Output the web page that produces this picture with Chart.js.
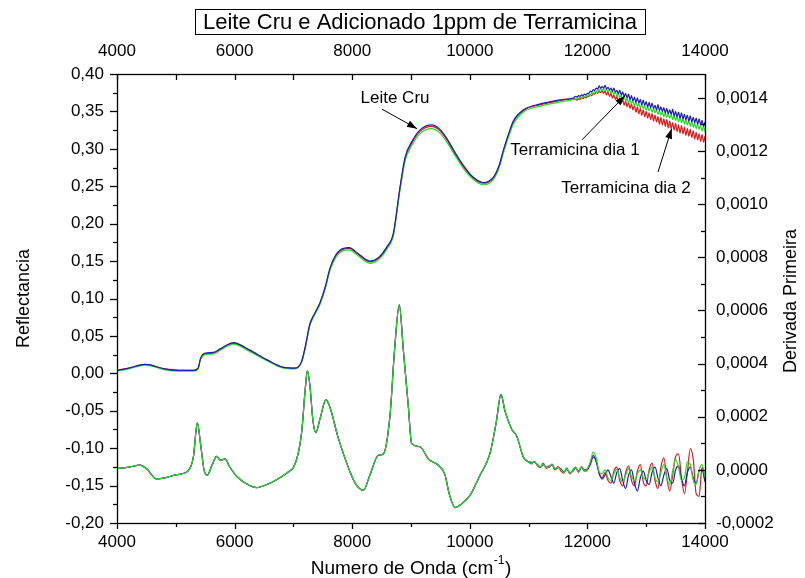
<!DOCTYPE html>
<html>
<head>
<meta charset="utf-8">
<script src="https://cdn.jsdelivr.net/npm/chart.js@4/dist/chart.umd.min.js"></script>
<style>
html,body{margin:0;padding:0;background:#fff;}
canvas{display:block;}
</style>
</head>
<body>
<canvas id="c" width="805" height="578"></canvas>
<script>
// ---------- DATA ----------
const chartTitle = 'Leite Cru e Adicionado 1ppm de Terramicina';
const xTitleMain = 'Numero de Onda (cm';
const xTitleSup = '-1';
const xTitleEnd = ')';
const yLeftTitle = 'Reflectancia';
const yRightTitle = 'Derivada Primeira';
const seriesNames = ['Leite Cru', 'Terramicina dia 1', 'Terramicina dia 2'];

const xTicks = [4000, 6000, 8000, 10000, 12000, 14000];
const xMinorTicks = [5000, 7000, 9000, 11000, 13000];
const yLeftTicks = [-0.20, -0.15, -0.10, -0.05, 0.00, 0.05, 0.10, 0.15, 0.20, 0.25, 0.30, 0.35, 0.40];
const yLeftMinor = [-0.175, -0.125, -0.075, -0.025, 0.025, 0.075, 0.125, 0.175, 0.225, 0.275, 0.325, 0.375];
const yRightTicks = [-0.0002, 0.0000, 0.0002, 0.0004, 0.0006, 0.0008, 0.0010, 0.0012, 0.0014];
const yRightMinor = [-0.0001, 0.0001, 0.0003, 0.0005, 0.0007, 0.0009, 0.0011, 0.0013];

// Reflectance (left axis) - smooth part
const wnReflSmooth = [4000,4200,4480,4800,5050,5300,5380,5420,5500,5640,
  5760,5980,6260,6550,6830,7030,7140,7200,7280,7360,
  7450,7540,7620,7720,7850,7950,8100,8300,8450,8590,
  8700,8810,8900,9010,9150,9350,9480,9610,9750,9890,
  10060,10230,10400,10500,10570,10660,10740,10910,11200,11500,
  11760];
const reflSmoothLeiteCru = [.004,.007,.012,.006,.004,.004,.007,.020,.027,.028,
  .033,.041,.031,.018,.008,.007,.016,.035,.066,.080,
  .094,.115,.140,.158,.167,.168,.160,.150,.155,.169,
  .187,.247,.289,.309,.325,.332,.327,.314,.295,.278,
  .262,.255,.262,.278,.298,.320,.337,.352,.360,.365,
  .368];
const reflSmoothDia1 = [.003,.006,.011,.005,.003,.003,.006,.018,.025,.026,
  .031,.039,.029,.017,.007,.006,.015,.033,.064,.078,
  .092,.113,.137,.155,.164,.165,.157,.147,.152,.166,
  .184,.243,.284,.304,.320,.327,.322,.309,.291,.274,
  .259,.252,.259,.275,.294,.316,.333,.349,.357,.362,
  .366];
const reflSmoothDia2 = [.004,.007,.012,.006,.004,.004,.007,.019,.026,.027,
  .032,.040,.030,.018,.008,.007,.016,.034,.065,.079,
  .093,.114,.139,.157,.166,.167,.159,.149,.154,.168,
  .186,.246,.287,.307,.323,.330,.325,.312,.293,.276,
  .261,.254,.261,.277,.297,.319,.336,.351,.359,.364,
  .367];
// Reflectance - noisy part (every 25 cm-1 from 11800 to 14000)
const wnReflNoisy = [11800,11825,11850,11875,11900,11925,11950,11975,12000,12025,
  12050,12075,12100,12125,12150,12175,12200,12225,12250,12275,
  12300,12325,12350,12375,12400,12425,12450,12475,12500,12525,
  12550,12575,12600,12625,12650,12675,12700,12725,12750,12775,
  12800,12825,12850,12875,12900,12925,12950,12975,13000,13025,
  13050,13075,13100,13125,13150,13175,13200,13225,13250,13275,
  13300,13325,13350,13375,13400,13425,13450,13475,13500,13525,
  13550,13575,13600,13625,13650,13675,13700,13725,13750,13775,
  13800,13825,13850,13875,13900,13925,13950,13975,14000];
const reflNoisyLeiteCru = [.370,.369,.371,.370,.372,.371,.373,.372,.374,.374,
  .377,.376,.379,.378,.381,.380,.384,.381,.383,.381,
  .385,.380,.382,.379,.381,.377,.381,.376,.378,.374,
  .378,.372,.376,.370,.374,.368,.373,.366,.371,.364,
  .369,.362,.368,.361,.366,.359,.365,.358,.363,.356,
  .362,.355,.361,.354,.358,.352,.359,.351,.356,.350,
  .355,.348,.354,.347,.352,.346,.353,.344,.350,.343,
  .349,.341,.348,.340,.346,.339,.345,.337,.344,.336,
  .342,.335,.341,.333,.340,.332,.338,.330,.336];
const reflNoisyDia1 = [.367,.368,.367,.369,.368,.370,.369,.371,.370,.373,
  .371,.375,.373,.377,.375,.379,.377,.381,.378,.380,
  .377,.380,.376,.379,.374,.377,.373,.376,.370,.374,
  .369,.371,.366,.370,.364,.367,.362,.366,.361,.363,
  .358,.362,.357,.360,.355,.359,.354,.357,.352,.356,
  .351,.355,.349,.354,.348,.352,.346,.351,.345,.350,
  .343,.348,.342,.347,.341,.346,.339,.344,.338,.343,
  .336,.342,.335,.340,.333,.339,.332,.337,.330,.336,
  .329,.334,.327,.333,.326,.331,.324,.330,.323];
const reflNoisyDia2 = [.366,.365,.367,.366,.368,.367,.369,.368,.370,.370,
  .372,.371,.374,.373,.376,.374,.377,.375,.378,.374,
  .377,.372,.376,.370,.374,.368,.372,.366,.370,.363,
  .368,.361,.366,.358,.364,.356,.362,.354,.360,.352,
  .358,.349,.356,.347,.354,.345,.352,.343,.350,.341,
  .348,.339,.347,.337,.345,.336,.343,.333,.342,.332,
  .340,.330,.339,.328,.337,.327,.335,.325,.334,.323,
  .332,.321,.331,.320,.329,.318,.327,.317,.326,.315,
  .324,.313,.322,.312,.320,.310,.319,.309,.317];

// First derivative (right axis)
const wnDerivCommon = [4000,4200,4390,4500,4675,4850,5015,5210,5300,5366,
  5420,5480,5536,5620,5695,5760,5837,5920,6035,6200,
  6375,6550,6715,6900,7000,7080,7140,7200,7237,7280,
  7330,7380,7450,7554,7630,7750,7850,7950,8050,8189,
  8300,8444,8530,8643,8720,8801,8870,8954,9010,9152,
  9300,9450,9576,9650,9748,9850,10003,10174,10343,10450,
  10530,10600,10713,10798,10911,11000];
const derivCommon = [0.000005,0.000010,0.000018,0.000005,-0.000034,-0.000028,-0.000018,-0.000004,0.000050,0.000177,
  0.000100,0.000000,-0.000020,0.000020,0.000051,0.000036,0.000041,0.000010,-0.000024,-0.000052,
  -0.000067,-0.000055,-0.000037,-0.000010,0.000009,0.000060,0.000140,0.000300,0.000373,0.000320,
  0.000190,0.000140,0.000190,0.000264,0.000230,0.000130,0.000061,0.000000,-0.000050,-0.000077,
  -0.000020,0.000055,0.000060,0.000205,0.000450,0.000621,0.000450,0.000241,0.000100,0.000087,
  0.000040,0.000020,-0.000017,-0.000090,-0.000142,-0.000130,-0.000096,-0.000020,0.000061,0.000180,
  0.000284,0.000220,0.000153,0.000127,0.000048,0.000030];
const wnDerivTail = [11050,11100,11150,11200,11250,11300,11350,11400,11450,11500,
  11550,11600,11650,11700,11750,11800,11850,11900,11950,12000,
  12050,12100,12150,12200,12250,12300,12350,12400,12450,12500,
  12550,12600,12650,12700,12750,12800,12850,12900,12950,13000,
  13050,13100,13150,13200,13250,13300,13350,13400,13450,13500,
  13550,13600,13650,13700,13750,13800,13850,13900,13950,14000];
const derivTailLeiteCru = [0.000028,0.000028,0.000020,0.000010,0.000020,0.000010,0.000010,0.000022,0.000002,0.000008,
  0.000003,-0.000008,0.000002,-0.000010,-0.000006,0.000006,-0.000004,0.000008,0.000000,0.000002,
  0.000025,0.000055,0.000030,-0.000012,-0.000035,-0.000020,0.000000,-0.000025,-0.000050,-0.000010,
  0.000005,-0.000040,-0.000070,-0.000020,0.000000,-0.000050,-0.000080,-0.000030,-0.000005,-0.000040,
  -0.000055,-0.000010,0.000010,-0.000030,-0.000060,-0.000020,0.000005,-0.000040,-0.000050,0.000000,
  0.000015,-0.000035,-0.000060,-0.000010,0.000010,-0.000030,-0.000050,-0.000005,0.000000,-0.000045];
const derivTailDia1 = [0.000025,0.000030,0.000018,0.000012,0.000022,0.000008,0.000012,0.000020,0.000004,0.000010,
  0.000000,-0.000010,0.000005,-0.000012,-0.000004,0.000008,-0.000006,0.000010,-0.000002,0.000005,
  0.000030,0.000068,0.000045,-0.000008,-0.000015,0.000000,-0.000030,-0.000040,-0.000015,0.000002,
  -0.000030,-0.000045,-0.000020,0.000005,-0.000025,-0.000040,-0.000015,0.000000,-0.000030,-0.000035,
  -0.000010,0.000010,-0.000030,-0.000045,-0.000010,0.000020,-0.000030,-0.000055,-0.000005,0.000040,
  0.000010,-0.000040,-0.000030,0.000030,0.000020,-0.000040,-0.000055,0.000000,0.000020,-0.000030];
const derivTailDia2 = [0.000022,0.000032,0.000015,0.000010,0.000025,0.000005,0.000015,0.000018,0.000000,0.000012,
  -0.000005,-0.000012,0.000008,-0.000015,-0.000002,0.000010,-0.000010,0.000012,-0.000005,0.000000,
  0.000020,0.000048,0.000035,-0.000015,-0.000030,-0.000010,-0.000040,-0.000050,-0.000005,0.000010,
  -0.000040,-0.000060,-0.000010,0.000015,-0.000040,-0.000060,-0.000005,0.000020,-0.000045,-0.000060,
  0.000000,0.000025,-0.000040,-0.000070,0.000010,0.000045,-0.000030,-0.000080,-0.000020,0.000050,
  0.000060,-0.000030,-0.000090,-0.000010,0.000080,0.000040,-0.000090,-0.000100,0.000010,-0.000040];

// Annotations: [text, textX, textY, arrowFromX, arrowFromY, arrowToX, arrowToY] in data units (left axis)
const annotations = [
  ['Leite Cru', 8728, 0.368, 8507, 0.353, 9102, 0.327],
  ['Terramicina dia 1', 11789, 0.298, 11908, 0.312, 12639, 0.371],
  ['Terramicina dia 2', 12657, 0.247, 13201, 0.269, 13433, 0.327]
];

const colors = { cru: '#1c1cb8', dia1: '#22dd22', dia2: '#e01818' };
// ---------- END DATA ----------

const FONT = "'Liberation Sans', Arial, Helvetica, sans-serif";

function pts(xs, ys) { return xs.map((x, i) => ({ x: x, y: ys[i] })); }
function ptsJoin(xs1, ys1, xs2, ys2) { return pts(xs1, ys1).concat(pts(xs2, ys2)); }

const lineDs = (label, data, color, axis) => ({
  label: label, data: data, borderColor: color, backgroundColor: color,
  borderWidth: 1.2, pointRadius: 0, fill: false,
  cubicInterpolationMode: 'monotone', yAxisID: axis, xAxisID: 'x'
});

// earlier datasets are drawn on top
const datasets = [
  lineDs(seriesNames[0], ptsJoin(wnReflSmooth, reflSmoothLeiteCru, wnReflNoisy, reflNoisyLeiteCru), colors.cru, 'y'),
  lineDs(seriesNames[1], ptsJoin(wnReflSmooth, reflSmoothDia1, wnReflNoisy, reflNoisyDia1), colors.dia1, 'y'),
  lineDs(seriesNames[2], ptsJoin(wnReflSmooth, reflSmoothDia2, wnReflNoisy, reflNoisyDia2), colors.dia2, 'y'),
  lineDs(seriesNames[1] + ' (derivada)', ptsJoin(wnDerivCommon, derivCommon, wnDerivTail, derivTailDia1), colors.dia1, 'y2'),
  lineDs(seriesNames[0] + ' (derivada)', ptsJoin(wnDerivCommon, derivCommon, wnDerivTail, derivTailLeiteCru), colors.cru, 'y2'),
  lineDs(seriesNames[2] + ' (derivada)', ptsJoin(wnDerivCommon, derivCommon, wnDerivTail, derivTailDia2), colors.dia2, 'y2')
];

const tickFont = { family: FONT, size: 17 };
const fmtX = v => String(v);
const fmtL = v => v.toFixed(2).replace('.', ',');
const fmtR = v => v.toFixed(4).replace('.', ',');

const decor = {
  id: 'decor',
  afterDraw(chart) {
    const ctx = chart.ctx;
    const a = chart.chartArea;
    const sx = chart.scales.x, sy = chart.scales.y, sy2 = chart.scales.y2;
    ctx.save();
    ctx.strokeStyle = '#000';
    ctx.lineWidth = 1.3;
    ctx.strokeRect(Math.round(a.left) + 0.5, Math.round(a.top) + 0.5, Math.round(a.right - a.left), Math.round(a.bottom - a.top));
    const seg = (x1, y1, x2, y2) => { ctx.beginPath(); ctx.moveTo(x1, y1); ctx.lineTo(x2, y2); ctx.stroke(); };
    // bottom ticks (outward)
    xTicks.forEach(v => { const p = Math.round(sx.getPixelForValue(v)) + 0.5; seg(p, a.bottom, p, a.bottom + 6); });
    xMinorTicks.forEach(v => { const p = Math.round(sx.getPixelForValue(v)) + 0.5; seg(p, a.bottom, p, a.bottom + 4); });
    // top ticks (inward)
    xTicks.concat(xMinorTicks).forEach(v => { const p = Math.round(sx.getPixelForValue(v)) + 0.5; seg(p, a.top, p, a.top + 6); });
    // left ticks (outward)
    yLeftTicks.forEach(v => { const p = Math.round(sy.getPixelForValue(v)) + 0.5; seg(a.left - 7, p, a.left, p); });
    yLeftMinor.forEach(v => { const p = Math.round(sy.getPixelForValue(v)) + 0.5; seg(a.left - 4, p, a.left, p); });
    // right ticks (inward)
    yRightTicks.forEach(v => { const p = Math.round(sy2.getPixelForValue(v)) + 0.5; seg(a.right - 7, p, a.right, p); });
    yRightMinor.forEach(v => { const p = Math.round(sy2.getPixelForValue(v)) + 0.5; seg(a.right - 4, p, a.right, p); });

    // title box
    ctx.fillStyle = '#000';
    ctx.font = '22px ' + FONT;
    ctx.textAlign = 'center';
    ctx.textBaseline = 'middle';
    const tw = ctx.measureText(chartTitle).width;
    const tcx = 420, tcy = 22;
    ctx.lineWidth = 1;
    ctx.strokeRect(Math.round(tcx - tw / 2 - 8) + 0.5, 9.5, Math.round(tw + 16), 25);
    ctx.fillText(chartTitle, tcx, tcy + 1);

    // axis titles
    ctx.font = '18px ' + FONT;
    ctx.save();
    ctx.translate(24, (a.top + a.bottom) / 2);
    ctx.rotate(-Math.PI / 2);
    ctx.fillText(yLeftTitle, 0, 0);
    ctx.restore();
    ctx.save();
    ctx.translate(791, 301);
    ctx.rotate(-Math.PI / 2);
    ctx.fillText(yRightTitle, 0, 0);
    ctx.restore();
    // x title with superscript
    ctx.font = '19px ' + FONT;
    ctx.textAlign = 'left';
    ctx.textBaseline = 'alphabetic';
    const w1 = ctx.measureText(xTitleMain).width;
    ctx.font = '12px ' + FONT;
    const w2 = ctx.measureText(xTitleSup).width;
    ctx.font = '19px ' + FONT;
    const w3 = ctx.measureText(xTitleEnd).width;
    const total = w1 + w2 + w3 + 1;
    const x0 = 411 - total / 2;
    const by = 574;
    ctx.fillText(xTitleMain, x0, by);
    ctx.font = '12px ' + FONT;
    ctx.fillText(xTitleSup, x0 + w1 + 0.5, by - 10);
    ctx.font = '19px ' + FONT;
    ctx.fillText(xTitleEnd, x0 + w1 + w2 + 1, by);

    // annotations
    ctx.font = '17px ' + FONT;
    ctx.textAlign = 'center';
    ctx.textBaseline = 'middle';
    ctx.lineWidth = 1;
    annotations.forEach(an => {
      const tx = sx.getPixelForValue(an[1]), ty = sy.getPixelForValue(an[2]);
      ctx.fillStyle = '#000';
      ctx.fillText(an[0], tx, ty);
      const x1 = sx.getPixelForValue(an[3]), y1 = sy.getPixelForValue(an[4]);
      const x2 = sx.getPixelForValue(an[5]), y2 = sy.getPixelForValue(an[6]);
      seg(x1, y1, x2, y2);
      const ang = Math.atan2(y2 - y1, x2 - x1);
      const hl = 10, hw = 3.5;
      ctx.beginPath();
      ctx.moveTo(x2, y2);
      ctx.lineTo(x2 - hl * Math.cos(ang) + hw * Math.sin(ang), y2 - hl * Math.sin(ang) - hw * Math.cos(ang));
      ctx.lineTo(x2 - hl * Math.cos(ang) - hw * Math.sin(ang), y2 - hl * Math.sin(ang) + hw * Math.cos(ang));
      ctx.closePath();
      ctx.fill();
    });
    ctx.restore();
  }
};

new Chart(document.getElementById('c').getContext('2d'), {
  type: 'line',
  data: { datasets: datasets },
  plugins: [decor],
  options: {
    responsive: false,
    animation: false,
    devicePixelRatio: 1,
    layout: { padding: 0 },
    plugins: { legend: { display: false }, tooltip: { enabled: false }, title: { display: false } },
    scales: {
      x: {
        type: 'linear', position: 'bottom', min: 4000, max: 14000,
        grid: { display: false, drawTicks: false }, border: { display: false },
        ticks: { font: tickFont, color: '#000', padding: 9, maxRotation: 0, autoSkip: false, callback: fmtX },
        afterBuildTicks: s => { s.ticks = xTicks.map(v => ({ value: v })); },
        afterFit: s => { s.height = 55; }
      },
      xTop: {
        type: 'linear', position: 'top', min: 4000, max: 14000, display: true,
        grid: { display: false, drawTicks: false }, border: { display: false },
        ticks: { font: tickFont, color: '#000', padding: 12, maxRotation: 0, autoSkip: false, callback: fmtX },
        afterBuildTicks: s => { s.ticks = xTicks.map(v => ({ value: v })); },
        afterFit: s => { s.height = 74; }
      },
      y: {
        type: 'linear', position: 'left', min: -0.20, max: 0.40,
        grid: { display: false, drawTicks: false }, border: { display: false },
        ticks: { font: tickFont, color: '#000', padding: 13, autoSkip: false, callback: fmtL },
        afterBuildTicks: s => { s.ticks = yLeftTicks.map(v => ({ value: v })); },
        afterFit: s => { s.width = 117; }
      },
      y2: {
        type: 'linear', position: 'right', min: -0.0002, max: 0.00149,
        grid: { display: false, drawTicks: false }, border: { display: false },
        ticks: { font: tickFont, color: '#000', padding: 11, autoSkip: false, callback: fmtR },
        afterBuildTicks: s => { s.ticks = yRightTicks.map(v => ({ value: v })); },
        afterFit: s => { s.width = 100; }
      }
    }
  }
});
</script>
</body>
</html>
